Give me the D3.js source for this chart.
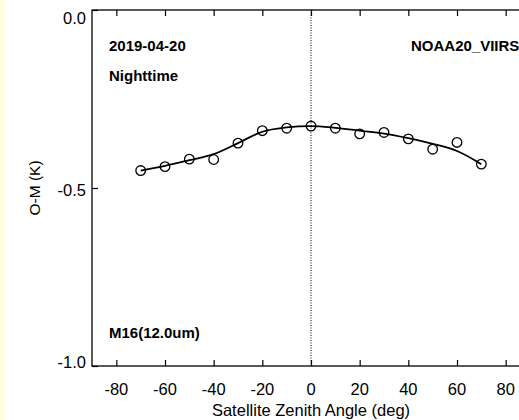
<!DOCTYPE html>
<html>
<head>
<meta charset="utf-8">
<script src="https://cdn.jsdelivr.net/npm/d3@7"></script>
<style>
html,body{margin:0;padding:0;background:#fff;}
svg{display:block;}
text{font-family:"Liberation Sans",Arial,Helvetica,sans-serif;fill:#000;}
</style>
</head>
<body>
<svg id="chart" width="519" height="420"></svg>
<script>
// ---- data ----
const angles = [-70,-60,-50,-40,-30,-20,-10,0,10,20,30,40,50,60,70];
const omValues = [-0.451,-0.440,-0.419,-0.420,-0.374,-0.339,-0.332,-0.326,-0.332,-0.348,-0.344,-0.362,-0.391,-0.372,-0.433];
const fitValues = [-0.451,-0.438,-0.422,-0.405,-0.374,-0.342,-0.330,-0.326,-0.331,-0.339,-0.347,-0.360,-0.376,-0.396,-0.433];
const xTicks = [-80,-60,-40,-20,0,20,40,60,80];
const yTicks = [0,-0.5,-1.0];
const xTickLabels = ["-80","-60","-40","-20","0","20","40","60","80"];
const yTickLabels = ["0.0","-0.5","-1.0"];
const dateLabel = "2019-04-20";
const timeLabel = "Nighttime";
const sensorLabel = "NOAA20_VIIRS";
const bandLabel = "M16(12.0um)";

(function(){
const svg = d3.select("#chart");
svg.append("rect").attr("x",0).attr("y",0).attr("width",5).attr("height",420).attr("fill","#ffffe0");

const L = 92, R = 530, T = 10, B = 366;
const x = d3.scaleLinear().domain([-90,90]).range([L,R]);
const y = d3.scaleLinear().domain([-1,0]).range([B,T]);
// label placement scale (labels sit slightly inside the extreme ticks)
const yLab = d3.scaleLinear().domain([-1,0]).range([368,24]);

const g = svg.append("g");
g.append("rect").attr("x",L).attr("y",T).attr("width",R-L).attr("height",B-T)
 .attr("fill","none").attr("stroke","#000").attr("stroke-width",1.3);

g.append("line").attr("x1",x(0)).attr("x2",x(0)).attr("y1",T).attr("y2",B)
 .attr("stroke","#000").attr("stroke-width",1).attr("stroke-dasharray","1,1.5");

const axBottom = d3.axisTop(x).tickValues(xTicks).tickSize(6).tickFormat("");
const axTop = d3.axisBottom(x).tickValues(xTicks).tickSize(6).tickFormat("");
const axLeft = d3.axisRight(y).tickValues(yTicks).tickSize(6).tickFormat("");
g.append("g").attr("transform",`translate(0,${B})`).call(axBottom);
g.append("g").attr("transform",`translate(0,${T})`).call(axTop);
g.append("g").attr("transform",`translate(${L},0)`).call(axLeft);
g.selectAll(".domain").remove();
g.selectAll(".tick line").attr("stroke","#000").attr("stroke-width",1.2);

g.selectAll(".xl").data(xTicks).enter().append("text")
 .attr("x",d=>x(d)).attr("y",395).attr("text-anchor","middle")
 .attr("font-size",16.5).text((d,i)=>xTickLabels[i]);
g.selectAll(".yl").data(yTicks).enter().append("text")
 .attr("x",L-6).attr("y",d=>yLab(d)).attr("text-anchor","end")
 .attr("font-size",16.5).text((d,i)=>yTickLabels[i]);

svg.append("text").attr("x",x(0)).attr("y",416).attr("text-anchor","middle")
 .attr("font-size",16.5).text("Satellite Zenith Angle (deg)");
svg.append("text").attr("transform",`translate(40,${y(-0.5)}) rotate(-90)`)
 .attr("text-anchor","middle").attr("font-size",15.5).text("O-M (K)");

g.append("path").datum(angles.map((a,i)=>[a,fitValues[i]]))
 .attr("fill","none").attr("stroke","#000").attr("stroke-width",1.8)
 .attr("d",d3.line().x(d=>x(d[0])).y(d=>y(d[1])).curve(d3.curveCatmullRom));

g.selectAll("circle.p").data(angles.map((a,i)=>[a,omValues[i]])).enter().append("circle")
 .attr("cx",d=>x(d[0])).attr("cy",d=>y(d[1])).attr("r",4.8)
 .attr("fill","none").attr("stroke","#000").attr("stroke-width",1.3);

const ann = [[dateLabel,109,51],[timeLabel,109,81],[sensorLabel,411,51],[bandLabel,109,338]];
ann.forEach(a=>{
  svg.append("text").attr("x",a[1]).attr("y",a[2]).attr("text-anchor","start")
   .attr("font-size",15).attr("font-weight","bold").text(a[0]);
});
})();
</script>
</body>
</html>
